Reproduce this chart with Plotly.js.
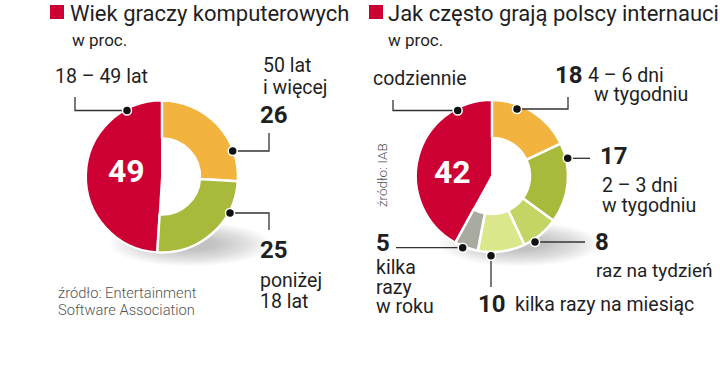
<!DOCTYPE html>
<html><head><meta charset="utf-8">
<script src="https://cdn.plot.ly/plotly-3.0.1.min.js"></script>
<style>html,body{margin:0;padding:0;background:#fff}#c{width:720px;height:367px}</style>
</head><body><div id="c"></div>
<script>
// ---- data ----
const ageLabels = ['50 lat i więcej', 'poniżej 18 lat', '18 – 49 lat'];
const ageValues = [26, 25, 49];
const freqLabels = ['4 – 6 dni w tygodniu', '2 – 3 dni w tygodniu', 'raz na tydzień', 'kilka razy na miesiąc', 'kilka razy w roku', 'codziennie'];
const freqValues = [18, 17, 8, 10, 5, 42];
const ageColors = ['#f2b33f', '#a9b93c', '#cc0033'];
const freqColors = ['#f2b33f', '#a9b93c', '#c4d566', '#dde78c', '#a9aba1', '#cc0033'];

const W = 720, H = 367;
const FONT = 'Roboto, "Noto Sans", sans-serif';
const DARK = '#1f1f1f';
const px = (x) => x / W, py = (y) => 1 - y / H;

function pieTraces(values, labels, colors, x0, x1, y0, y1) {
  const n = values.length, last = n - 1;
  const dom = {x: [px(x0), px(x1)], y: [py(y1), py(y0)]};
  const full = {
    type: 'pie', values: values, labels: labels, sort: false, direction: 'clockwise', rotation: 0,
    hole: 0, domain: dom, textinfo: 'none', hoverinfo: 'label+value', showlegend: false,
    marker: {colors: colors.map((c, i) => i === last ? c : 'rgba(0,0,0,0)'),
             line: {color: '#ffffff', width: colors.map((c, i) => i === last ? 2 : 0)}}
  };
  const ring = {
    type: 'pie', values: values, labels: labels, sort: false, direction: 'clockwise', rotation: 0,
    hole: 0.5, domain: dom, textinfo: 'none', hoverinfo: 'label+value', showlegend: false,
    marker: {colors: colors.map((c, i) => i === last ? 'rgba(0,0,0,0)' : c),
             line: {color: '#ffffff', width: colors.map((c, i) => i === last ? 0 : 2.5)}}
  };
  return [full, ring];
}

const data = [
  ...pieTraces(ageValues, ageLabels, ageColors, 86, 238, 100.5, 252.5),
  ...pieTraces(freqValues, freqLabels, freqColors, 416, 568, 100, 252)
];

const shapes = [];
const annotations = [];
function shadow(cx, cy) {
  const N = 14;
  for (let i = 0; i < N; i++) {
    const rx = 80 - i * 4.2, ry = 22 - i * 1.2;
    shapes.push({type: 'circle', xref: 'x', yref: 'y', layer: 'below', x0: cx - rx, x1: cx + rx, y0: cy - ry, y1: cy + ry,
      fillcolor: 'rgba(110,110,110,0.035)', line: {width: 0}});
  }
}
shadow(190, 244);
shadow(520, 244);

function line(path) { shapes.push({type: 'path', xref: 'x', yref: 'y', path: path, line: {color: '#333', width: 1.3}}); }
function dot(x, y) { shapes.push({type: 'circle', xref: 'x', yref: 'y', x0: x - 4.5, x1: x + 4.5, y0: y - 4.5, y1: y + 4.5, fillcolor: '#111', line: {color: '#fff', width: 1.5}}); }
function txt(x, y, text, size, opts = {}) {
  annotations.push(Object.assign({xref: 'x', yref: 'y', x: x, y: y, text: text, showarrow: false, xanchor: 'left', yanchor: 'middle',
    font: {family: FONT, size: size, color: DARK}}, opts));
}
const B = (t) => '<b>' + t + '</b>';
const L = 19.5;

// titles
shapes.push({type: 'rect', xref: 'x', yref: 'y', x0: 50, x1: 64, y0: 5, y1: 19, fillcolor: '#cc0033', line: {width: 0}});
shapes.push({type: 'rect', xref: 'x', yref: 'y', x0: 369, x1: 383, y0: 5, y1: 19, fillcolor: '#cc0033', line: {width: 0}});
txt(68, 13, 'Wiek graczy komputerowych', 22);
txt(386, 13, 'Jak często grają polscy internauci', 22);
txt(70, 40, 'w proc.', 17);
txt(386, 40, 'w proc.', 17);

// left pie labels
line('M75,97 V110.5 H127'); dot(127, 110.5);
txt(53, 76, ageLabels[2], L);
line('M232.7,151 H269 V133'); dot(232.7, 151);
txt(261, 65, '50 lat', L); txt(261, 87, 'i więcej', L);
txt(258, 115, B(ageValues[0]), 24);
line('M230,213 H269 V230'); dot(230, 213);
txt(258, 250, B(ageValues[1]), 24);
txt(258, 280, 'poniżej', L); txt(258, 301, '18 lat', L);
txt(126, 171, B(ageValues[2]), 32, {xanchor: 'center', font: {family: FONT, size: 32, color: '#fff'}});
txt(56, 293, 'źródło: Entertainment', 14.7, {font: {family: FONT, size: 14.7, color: '#555', weight: 300}});
txt(56, 310, 'Software Association', 14.7, {font: {family: FONT, size: 14.7, color: '#555', weight: 300}});

// right pie labels
line('M457.7,110.5 H393 V100'); dot(457.7, 110.5);
txt(371, 78, freqLabels[5], L);
line('M517,109 H568 V97'); dot(517, 109);
txt(553, 75, B(freqValues[0]), 24);
txt(586, 75, '4 – 6 dni', L); txt(592, 94, 'w tygodniu', L);
line('M567.7,158.3 H590'); dot(567.7, 158.3);
txt(598, 156, B(freqValues[1]), 24);
txt(600, 185, '2 – 3 dni', L); txt(600, 205, 'w tygodniu', L);
line('M535,242 H585'); dot(535, 242);
txt(593, 242, B(freqValues[2]), 24);
txt(594, 270, freqLabels[2], 19);
line('M491,255.7 V287'); dot(491, 255.7);
txt(476, 304, B(freqValues[3]), 24);
txt(513, 304, freqLabels[3], L);
line('M462.7,247.7 H396'); dot(462.7, 247.7);
txt(374, 243, B(freqValues[4]), 24);
txt(374, 267, 'kilka', L); txt(374, 287, 'razy', L); txt(374, 306, 'w roku', L);
txt(452, 172, B(freqValues[5]), 32, {xanchor: 'center', font: {family: FONT, size: 32, color: '#fff'}});
txt(382, 175, 'źródło: IAB', 13.5, {xanchor: 'center', textangle: -90, font: {family: FONT, size: 13.5, color: '#555', weight: 300}});

const layout = {
  width: W, height: H, margin: {l: 0, r: 0, t: 0, b: 0},
  paper_bgcolor: '#fff', plot_bgcolor: 'rgba(0,0,0,0)', showlegend: false,
  xaxis: {range: [0, W], visible: false, fixedrange: true},
  yaxis: {range: [H, 0], visible: false, fixedrange: true},
  shapes: shapes, annotations: annotations
};
Plotly.newPlot('c', data, layout, {displayModeBar: false, staticPlot: true});
</script></body></html>
